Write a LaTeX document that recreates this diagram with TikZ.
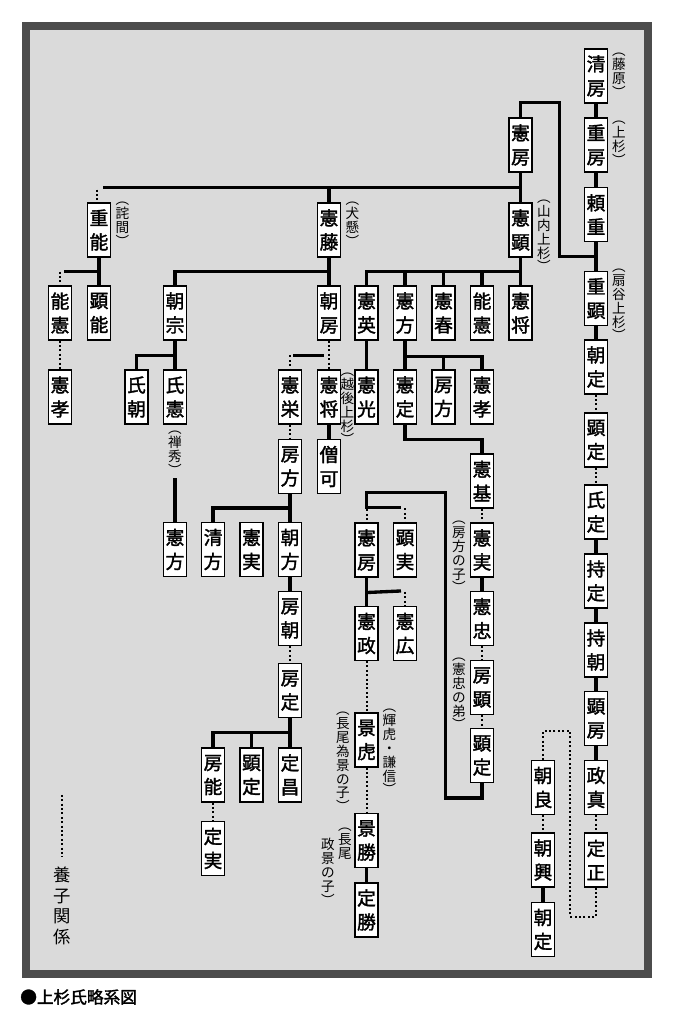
\documentclass[tikz,border=0pt]{standalone}
\usepackage{fontspec}
\usetikzlibrary{calc}
\newfontfamily\jp{Noto Sans CJK JP}
\newfontfamily\jpb[FakeBold=1.8]{Noto Sans CJK JP}
\definecolor{framefill}{HTML}{DADADA}
\definecolor{frameline}{HTML}{4C4C4C}
\tikzset{
  pbox/.style={draw=black, line width=0.8pt, fill=white, minimum width=17.25pt, minimum height=40.5pt,
    inner sep=0pt, align=center, font=\jpb\fontsize{14}{18}\selectfont},
  kin/.style={line width=2.5pt},
  adopt/.style={line width=1.5pt, dash pattern=on 1.5pt off 1.8pt},
  ann/.style={inner sep=0pt, align=center, font=\jp\fontsize{10.2}{10.4}\selectfont}
}
\newcommand\lpx{︵\\}
\newcommand\rpx{\\︶}
\begin{document}
\begin{tikzpicture}[x=0.75pt,y=-0.75pt]
\useasboundingbox (0,0) rectangle (673,1024);
\fill[white] (0,0) rectangle (673,1024);
\draw[line width=6pt, draw=frameline, fill=framefill] (26,26) rectangle (647.5,973.5);

% ---- Ogigayatsu column
\node[pbox] (kiyofusa) at (596,76) {清\\房};
\node[pbox] (shigefusa) at (596,145) {重\\房};
\node[pbox] (yorishige) at (596,214.5) {頼\\重};
\node[pbox] (shigeaki) at (596,298.5) {重\\顕};
\node[pbox] (tomosadaO) at (596,367) {朝\\定};
\node[pbox] (akisadaO) at (596,440) {顕\\定};
\node[pbox] (ujisada) at (596,512) {氏\\定};
\node[pbox] (mochisada) at (596,581) {持\\定};
\node[pbox] (mochitomo) at (596,650) {持\\朝};
\node[pbox] (akifusa) at (596,718.5) {顕\\房};
\node[pbox] (masazane) at (596,787.5) {政\\真};
\node[pbox] (sadamasa) at (596,860) {定\\正};
\node[pbox] (tomoyoshi) at (543,787.5) {朝\\良};
\node[pbox] (tomooki) at (543,860) {朝\\興};
\node[pbox] (tomosada2) at (543,929.5) {朝\\定};

% ---- upper rows
\node[pbox] (norifusa) at (520.5,145) {憲\\房};
\node[pbox] (noriaki) at (520.5,230) {憲\\顕};
\node[pbox] (shigeyoshi) at (99,230) {重\\能};
\node[pbox] (norifuji) at (329,230) {憲\\藤};

\node[pbox] (yoshinoriL) at (60,313) {能\\憲};
\node[pbox] (akiyoshi) at (99,313) {顕\\能};
\node[pbox] (tomomune) at (175,313) {朝\\宗};
\node[pbox] (tomofusa) at (329,313) {朝\\房};
\node[pbox] (norihide) at (366.5,313) {憲\\英};
\node[pbox] (norikata) at (405,313) {憲\\方};
\node[pbox] (noriharu) at (443.5,313) {憲\\春};
\node[pbox] (yoshinori) at (482,313) {能\\憲};
\node[pbox] (norimasa) at (520.5,313) {憲\\将};

\node[pbox] (noritakaL) at (60,397) {憲\\孝};
\node[pbox] (ujitomo) at (136.5,397) {氏\\朝};
\node[pbox] (ujinori) at (175,397) {氏\\憲};
\node[pbox] (norihide2) at (290,397) {憲\\栄};
\node[pbox] (norimasaE) at (329,397) {憲\\将};
\node[pbox] (norimitsu) at (366.5,397) {憲\\光};
\node[pbox] (norisada) at (405,397) {憲\\定};
\node[pbox] (fusakataM) at (443.5,397) {房\\方};
\node[pbox] (noritaka) at (482,397) {憲\\孝};

\node[pbox] (fusakata) at (290,466.5) {房\\方};
\node[pbox] (soka) at (329,466.5) {僧\\可};
\node[pbox] (norimoto) at (482,481) {憲\\基};

\node[pbox] (norikataL) at (175,549.5) {憲\\方};
\node[pbox] (kiyokata) at (213,549.5) {清\\方};
\node[pbox] (norizaneL) at (251.5,549.5) {憲\\実};
\node[pbox] (tomokata) at (290,549.5) {朝\\方};
\node[pbox] (norifusa2) at (366.5,550) {憲\\房};
\node[pbox] (akizane) at (405,550) {顕\\実};
\node[pbox] (norizane) at (482,550) {憲\\実};

\node[pbox] (fusatomo) at (290,618.5) {房\\朝};
\node[pbox] (noritada) at (482,618.5) {憲\\忠};
\node[pbox] (norimasa2) at (366.5,633.5) {憲\\政};
\node[pbox] (norihiro) at (405,633.5) {憲\\広};

\node[pbox] (fusasada) at (290,690.5) {房\\定};
\node[pbox] (fusaaki) at (482,687.5) {房\\顕};
\node[pbox] (kagetora) at (366.5,740) {景\\虎};
\node[pbox] (akisadaY) at (482,755.5) {顕\\定};

\node[pbox] (fusayoshi) at (213,775) {房\\能};
\node[pbox] (akisadaL) at (251.5,775) {顕\\定};
\node[pbox] (sadamasaL) at (290,775) {定\\昌};
\node[pbox] (kagekatsu) at (366.5,840.5) {景\\勝};
\node[pbox] (sadazane) at (213,848.5) {定\\実};
\node[pbox] (sadakatsu) at (366.5,910) {定\\勝};

% ---- annotations
\node[ann] (a-fujiwara) at (619,75) {\lpx 藤\\原\rpx};
\node[ann] (a-uesugi) at (619,143) {\lpx 上\\杉\rpx};
\node[ann] (a-ogi) at (619,305) {\lpx 扇\\谷\\上\\杉\rpx};
\node[ann] (a-yama) at (544,236) {\lpx 山\\内\\上\\杉\rpx};
\node[ann] (a-takuma) at (122.5,224) {\lpx 詫\\間\rpx};
\node[ann] (a-inukake) at (352.5,224) {\lpx 犬\\懸\rpx};
\node[ann] (a-zenshu) at (175,453) {\lpx 禅\\秀\rpx};
\node[ann] (a-echigo) at (347.5,409) {\lpx 越\\後\\上\\杉\rpx};
\node[ann] (a-fusako) at (459,557) {\lpx 房\\方\\の\\子\rpx};
\node[ann] (a-otouto) at (459,694) {\lpx 憲\\忠\\の\\弟\rpx};
\node[ann] (a-teru) at (389.5,752) {\lpx 輝\\虎\\・\\謙\\信\rpx};
\node[ann] (a-tame) at (343,762) {\lpx 長\\尾\\為\\景\\の\\子\rpx};
\node[ann] (a-masa1) at (345,844) {\lpx 長\\尾};
\node[ann] (a-masa2) at (328,872) {政\\景\\の\\子\rpx};

% ---- legend and caption
\node[ann, font=\jp\fontsize{13}{15.5}\selectfont] (legend) at (62,906) {養\\子\\関\\係};
\draw[adopt] ($(legend.north)+(0,-72)$) coordinate (lg1) -- ($(legend.north)+(0,-10)$) coordinate (lg2);
\node[anchor=west, inner sep=0pt, font=\jpb\fontsize{12.5}{12.5}\selectfont] (caption) at (20,997) {●上杉氏略系図};

% ---- connectors: Ogigayatsu
\draw[kin] (kiyofusa.south) -- (shigefusa.north) (shigefusa.south) -- (yorishige.north)
  (yorishige.south) -- (shigeaki.north) (shigeaki.south) -- (tomosadaO.north);
\draw[adopt] (tomosadaO.south) -- (akisadaO.north) (akisadaO.south) -- (ujisada.north);
\draw[kin] (ujisada.south) -- (mochisada.north) (mochisada.south) -- (mochitomo.north)
  (mochitomo.south) -- (akifusa.north) (akifusa.south) -- (masazane.north);
\draw[adopt] (masazane.south) -- (sadamasa.north);
\draw[adopt] (sadamasa.south) |- ++(-26,29) |- ($(tomoyoshi.north)+(0,-29)$) -- (tomoyoshi.north);
\draw[adopt] (tomoyoshi.south) -- (tomooki.north);
\draw[kin] (tomooki.south) -- (tomosada2.north);

% ---- Yamanouchi
\draw[kin] (norifusa.north) |- ++(39,-15) |- ($(yorishige.south)!0.5!(shigeaki.north)$);
\draw[kin] (norifusa.south) -- (noriaki.north);
\coordinate (b1) at ($(norifusa.south)!0.5!(noriaki.north)$);
\draw[kin] (b1) -- ($(b1 -| shigeyoshi.north)+(4,0)$);
\draw[kin] (b1 -| norifuji.north) -- (norifuji.north);
\draw[adopt] ($(b1 -| shigeyoshi.north)+(-2,2)$) -- ($(shigeyoshi.north)+(-2,0)$);

\draw[kin] (shigeyoshi.south) -- (akiyoshi.north);
\coordinate (b2) at ($(shigeyoshi.south)!0.5!(akiyoshi.north)$);
\draw[kin] (b2) -- ($(b2 -| yoshinoriL.north)+(4,0)$);
\draw[adopt] (b2 -| yoshinoriL.north) -- (yoshinoriL.north);
\draw[adopt] (yoshinoriL.south) -- (noritakaL.north);

\draw[kin] (norifuji.south) -- (tomofusa.north);
\draw[kin] (tomomune.north) |- ($(norifuji.south)!0.5!(tomofusa.north)$);

\draw[kin] (noriaki.south) -- (norimasa.north);
\coordinate (b3) at ($(noriaki.south)!0.5!(norimasa.north)$);
\draw[kin] (norihide.north) |- (b3);
\foreach \n in {norikata, noriharu, yoshinori} \draw[kin] (\n.north) -- (\n.north |- b3);

\draw[kin] (tomomune.south) -- (ujinori.north);
\draw[kin] ($(tomomune.south)+(0,15)$) -| (ujitomo.north);
\draw[kin] ($(a-zenshu.south)+(0,3)$) -- (norikataL.north);

\draw[adopt] (tomofusa.south) -- (norimasaE.north);
\draw[kin] ($(norihide2.north)+(3,-14)$) -- ($(norimasaE.north)+(-5,-14)$);
\draw[adopt] ($(norihide2.north)+(0,-14)$) -- (norihide2.north);
\draw[adopt] (norihide2.south) -- (fusakata.north);
\draw[kin] (norimasaE.south) -- (soka.north);

\draw[kin] (fusakata.south) -- (tomokata.north);
\draw[kin] (kiyokata.north) |- ($(fusakata.south)!0.5!(tomokata.north)$);
\draw[kin] (tomokata.south) -- (fusatomo.north);
\draw[adopt] (fusatomo.south) -- (fusasada.north);
\draw[kin] (fusasada.south) -- (sadamasaL.north);
\coordinate (b4) at ($(fusasada.south)!0.5!(sadamasaL.north)$);
\draw[kin] (fusayoshi.north) |- (b4);
\draw[kin] (akisadaL.north) -- (akisadaL.north |- b4);
\draw[adopt] (fusayoshi.south) -- (sadazane.north);

\draw[kin] (norihide.south) -- (norimitsu.north);
\draw[kin] (norikata.south) -- (norisada.north);
\coordinate (b5) at ($(norikata.south)+(0,16)$);
\draw[kin] (b5) -| (noritaka.north);
\draw[kin] (fusakataM.north) -- (fusakataM.north |- b5);
\draw[kin] (norisada.south) |- ($(norimoto.north)+(0,-14)$) -- (norimoto.north);
\draw[adopt] (norimoto.south) -- (norizane.north);
\draw[kin] (norizane.south) -- (noritada.north);
\draw[adopt] (noritada.south) -- (fusaaki.north);
\draw[adopt] (fusaaki.south) -- (akisadaY.north);

\draw[kin] (akisadaY.south) -- ++(0,15) -| ($(norifusa2.north)+(79,-30)$)
  -| ($(norifusa2.north)+(0,-15)$) -- ($(akizane.north)+(-4,-15)$);
\draw[adopt] ($(norifusa2.north)+(0,-13)$) -- (norifusa2.north);
\draw[adopt] ($(akizane.north)+(0,-14)$) -- (akizane.north);

\draw[kin] (norifusa2.south) -- (norimasa2.north);
\draw[kin] ($(norifusa2.south)+(0,15)$) -- ($(norihiro.north)+(-4,-15)$);
\draw[adopt] ($(norihiro.north)+(0,-14)$) -- (norihiro.north);
\draw[adopt] (norimasa2.south) -- (kagetora.north);
\draw[adopt] (kagetora.south) -- (kagekatsu.north);
\draw[kin] (kagekatsu.south) -- (sadakatsu.north);
\end{tikzpicture}
\end{document}
